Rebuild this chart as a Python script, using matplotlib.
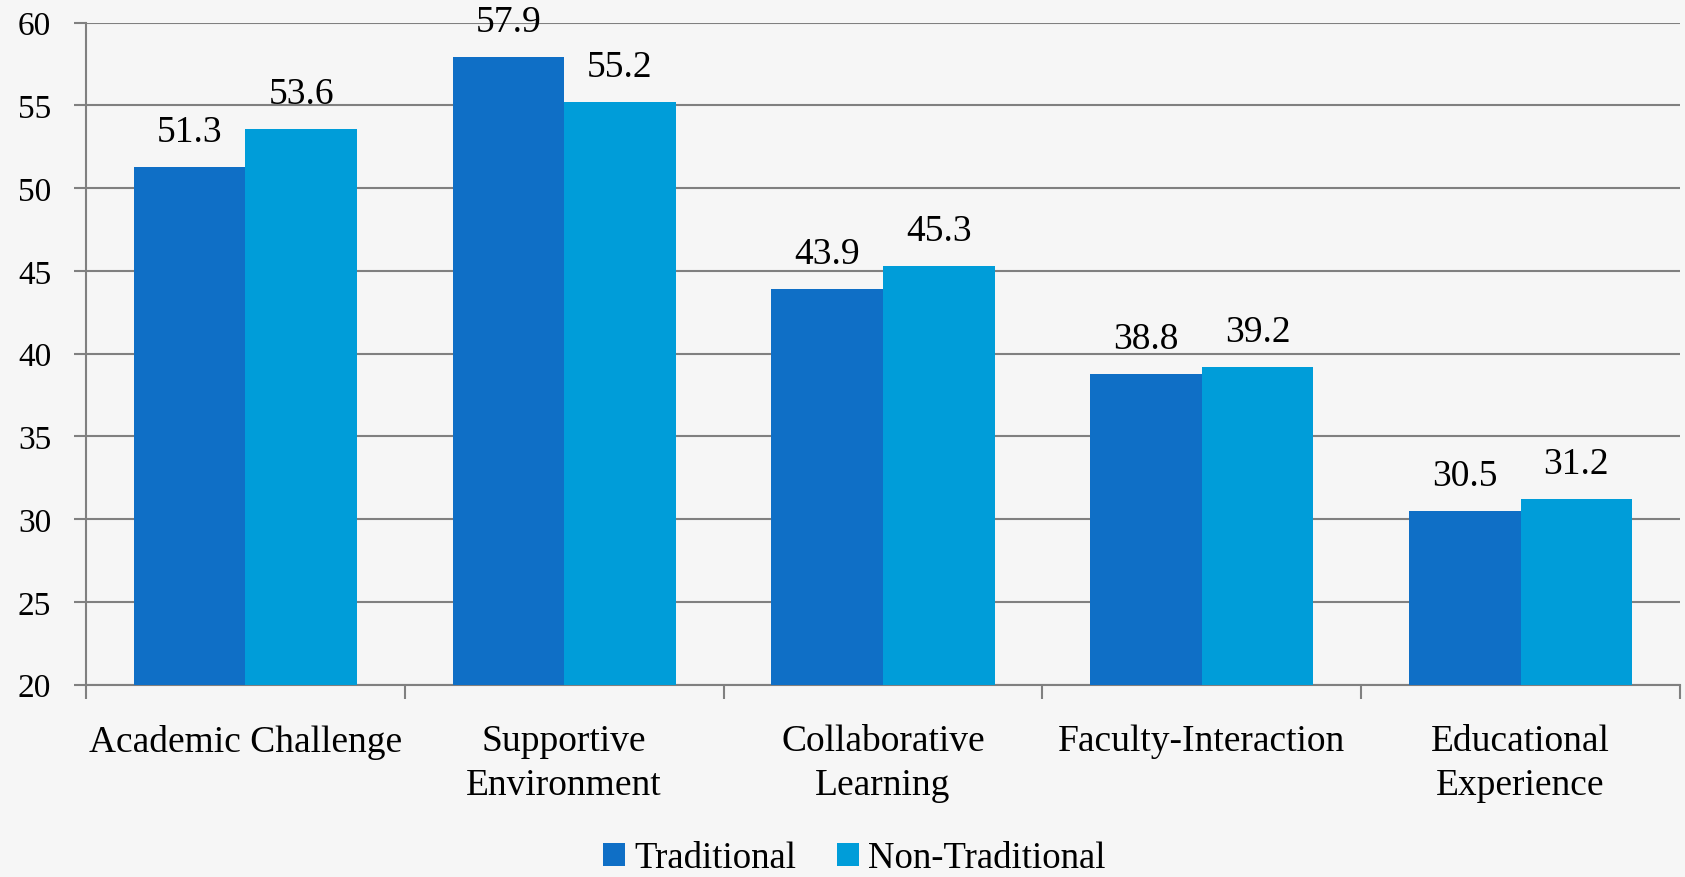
import numpy as np
import matplotlib.pyplot as plt

categories = ["Academic Challenge", "Supportive\nEnvironment", "Collaborative\nLearning",
              "Faculty-Interaction", "Educational\nExperience"]
traditional = [51.3, 57.9, 43.9, 38.8, 30.5]
non_traditional = [53.6, 55.2, 45.3, 39.2, 31.2]
series_names = ["Traditional", "Non-Traditional"]
yticks = [20, 25, 30, 35, 40, 45, 50, 55, 60]

BG = "#f6f6f6"
GRID = "#808080"
COLORS = ["#0f6fc6", "#009dd9"]
SERIF = ["Liberation Serif", "DejaVu Serif"]

plt.rcParams["font.family"] = SERIF

fig = plt.figure(figsize=(16.85, 8.78), dpi=100, facecolor=BG)
ax = fig.add_axes([0.051, 0.219, 0.946, 0.754], facecolor=BG)

x = np.arange(len(categories))
w = 0.35
b1 = ax.bar(x - w / 2, traditional, w, color=COLORS[0], label=series_names[0], zorder=3)
b2 = ax.bar(x + w / 2, non_traditional, w, color=COLORS[1], label=series_names[1], zorder=3)

for bars, vals in ((b1, traditional), (b2, non_traditional)):
    for rect, v in zip(bars, vals):
        ax.annotate(f"{v:.1f}", (rect.get_x() + rect.get_width() / 2, v),
                    xytext=(0, 13), textcoords="offset points",
                    ha="center", va="bottom", fontsize=27, color="black",
                    family=SERIF)

ax.set_ylim(20, 60)
ax.set_xlim(-0.5, len(categories) - 0.5)
ax.set_yticks(yticks)
ax.set_yticklabels([str(t) for t in yticks], fontsize=24, family=SERIF)
ax.yaxis.grid(True, color=GRID, lw=1.5, zorder=0)
ax.tick_params(axis="y", length=9, width=1.5, color=GRID, pad=16)

# category labels between boundary ticks
ax.set_xticks(x)
ax.set_xticklabels(categories, fontsize=27, linespacing=1.35, family=SERIF)
ax.tick_params(axis="x", length=0, pad=28)
ax.set_xticks(np.arange(len(categories) + 1) - 0.5, minor=True)
ax.tick_params(axis="x", which="minor", length=10, width=1.5, color=GRID)

for side in ("top", "right"):
    ax.spines[side].set_visible(False)
for side in ("left", "bottom"):
    ax.spines[side].set_color(GRID)
    ax.spines[side].set_linewidth(1.5)

fig.legend(handles=[b1, b2], loc="lower center", bbox_to_anchor=(0.507, -0.036),
           ncol=2, frameon=False, prop={"family": SERIF, "size": 26.5},
           handlelength=0.6, handleheight=0.6, handletextpad=0.25, columnspacing=1.1)

fig.savefig("out.png", dpi=100, facecolor=BG)
